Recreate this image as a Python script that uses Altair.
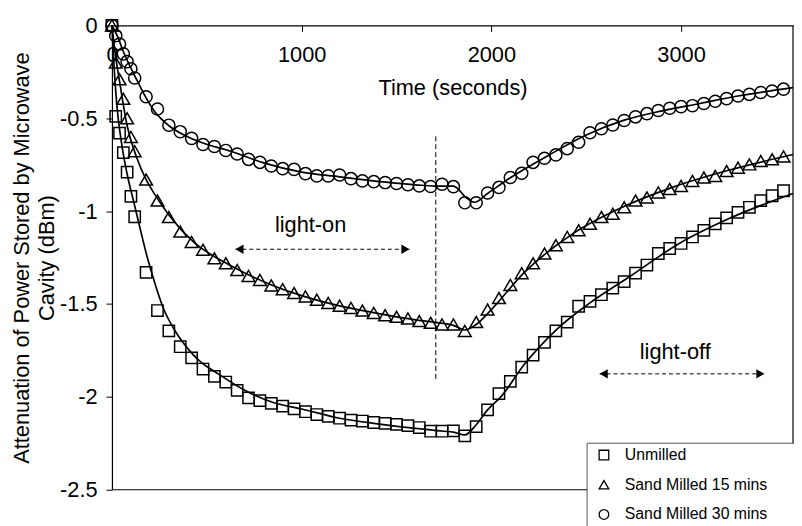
import altair as alt
import pandas as pd

# ---------------- data ----------------
SERIES = ["Unmilled", "Sand Milled 15 mins", "Sand Milled 30 mins"]
SHAPES = ["square", "triangle-up", "circle"]
SIZES = [130, 165, 150]

TIME = [0, 20, 40, 60, 80, 100, 120,
        180, 240, 300, 360, 420, 480, 540, 600, 660, 720,
        780, 840, 900, 960, 1020, 1080, 1140, 1200, 1260, 1320,
        1380, 1440, 1500, 1560, 1620, 1680, 1740, 1800, 1860, 1920,
        1980, 2040, 2100, 2160, 2220, 2280, 2340, 2400, 2460, 2520,
        2580, 2640, 2700, 2760, 2820, 2880, 2940, 3000, 3060, 3120,
        3180, 3240, 3300, 3360, 3420, 3480, 3540]

UNMILLED = [0, -0.49, -0.58, -0.685, -0.79, -0.92, -1.03,
            -1.33, -1.535, -1.645, -1.73, -1.79, -1.85, -1.89, -1.92, -1.965, -2.005,
            -2.02, -2.035, -2.05, -2.065, -2.08, -2.095, -2.105, -2.115, -2.125, -2.13,
            -2.138, -2.143, -2.148, -2.155, -2.165, -2.185, -2.185, -2.183, -2.21, -2.16,
            -2.07, -1.983, -1.917, -1.84, -1.775, -1.707, -1.645, -1.597, -1.512, -1.486,
            -1.45, -1.414, -1.379, -1.334, -1.29, -1.228, -1.201, -1.174, -1.139, -1.103,
            -1.068, -1.036, -1.006, -0.979, -0.943, -0.917, -0.89]

SAND15 = [0, -0.2, -0.29, -0.395, -0.5, -0.6, -0.677,
          -0.83, -0.943, -1.032, -1.11, -1.166, -1.208, -1.254, -1.281, -1.317, -1.349,
          -1.37, -1.40, -1.42, -1.441, -1.459, -1.477, -1.494, -1.509, -1.521, -1.535,
          -1.548, -1.56, -1.569, -1.578, -1.592, -1.601, -1.61, -1.61, -1.645, -1.597,
          -1.53, -1.468, -1.397, -1.334, -1.281, -1.228, -1.183, -1.139, -1.103, -1.068,
          -1.032, -1.014, -0.979, -0.943, -0.926, -0.899, -0.881, -0.864, -0.837, -0.819,
          -0.81, -0.784, -0.766, -0.748, -0.73, -0.721, -0.705]

SAND30 = [0, -0.055, -0.1, -0.153, -0.195, -0.233, -0.283,
          -0.384, -0.45, -0.537, -0.572, -0.608, -0.641, -0.652, -0.673, -0.692, -0.721,
          -0.737, -0.757, -0.771, -0.775, -0.798, -0.81, -0.81, -0.805, -0.825, -0.837,
          -0.841, -0.846, -0.851, -0.858, -0.864, -0.867, -0.855, -0.868, -0.955, -0.955,
          -0.902, -0.872, -0.819, -0.796, -0.737, -0.715, -0.697, -0.663, -0.629, -0.578,
          -0.556, -0.536, -0.512, -0.492, -0.475, -0.458, -0.446, -0.437, -0.432, -0.42,
          -0.408, -0.394, -0.38, -0.371, -0.361, -0.353, -0.343]

# fitted curves (solid lines)
FIT_UNMILLED_T = [0, 10, 25, 50, 80, 115, 150, 184, 230, 270, 330, 400, 460, 560, 720,
                  850, 1000, 1200, 1400, 1600, 1750, 1800, 1860, 1920, 1980, 2050, 2170,
                  2345, 2520, 2730, 2990, 3250, 3590]
FIT_UNMILLED_V = [0, -0.2, -0.42, -0.63, -0.8, -0.95, -1.1, -1.24, -1.4, -1.52, -1.64,
                  -1.74, -1.805, -1.876, -1.975, -2.03, -2.065, -2.115, -2.145, -2.17,
                  -2.185, -2.19, -2.205, -2.15, -2.07, -2.0, -1.83, -1.636, -1.494,
                  -1.352, -1.174, -1.041, -0.905]

FIT_SAND15_T = [0, 20, 40, 80, 130, 180, 220, 300, 430, 620, 800, 1000, 1200, 1400,
                1600, 1750, 1800, 1860, 1920, 2000, 2170, 2430, 2690, 2950, 3250, 3590]
FIT_SAND15_V = [0, -0.17, -0.3, -0.54, -0.71, -0.83, -0.9, -1.02, -1.166, -1.29, -1.38,
                -1.455, -1.51, -1.55, -1.585, -1.605, -1.615, -1.64, -1.61, -1.53,
                -1.334, -1.121, -0.979, -0.873, -0.78, -0.695]

FIT_SAND30_T = [0, 30, 60, 100, 132, 180, 219, 306, 380, 479, 627, 800, 1000, 1200,
                1400, 1600, 1700, 1800, 1870, 1911, 1980, 2100, 2300, 2500, 2700, 2900,
                3100, 3300, 3590]
FIT_SAND30_V = [0, -0.06, -0.14, -0.23, -0.295, -0.39, -0.455, -0.544, -0.59, -0.633,
                -0.677, -0.74, -0.79, -0.815, -0.84, -0.858, -0.865, -0.865, -0.93,
                -0.952, -0.905, -0.82, -0.7, -0.59, -0.51, -0.46, -0.42, -0.38, -0.335]

X_TICKS = [0, 1000, 2000, 3000]
Y_TICKS = [0, -0.5, -1, -1.5, -2, -2.5]

# annotations
ARROW_START = [651, 2571]
ARROW_END = [1568, 3439]
ARROW_V = [-1.205, -1.876]
NOTE_T = [1047, 2969]
NOTE_V = [-1.077, -1.757]
NOTE_TEXT = ["light-on", "light-off"]
SWITCH_T = [1707]
SWITCH_TOP = [-0.597]
SWITCH_BOTTOM = [-1.914]

# ---------------- tables ----------------
SERIES_VALUES = [UNMILLED, SAND15, SAND30]
point_tables = [pd.DataFrame({"t": TIME, "v": vals, "series": [name] * len(TIME)})
                for name, vals in zip(SERIES, SERIES_VALUES)]
fits = pd.DataFrame({
    "t": FIT_UNMILLED_T + FIT_SAND15_T + FIT_SAND30_T,
    "v": FIT_UNMILLED_V + FIT_SAND15_V + FIT_SAND30_V,
    "series": [SERIES[0]] * len(FIT_UNMILLED_T) + [SERIES[1]] * len(FIT_SAND15_T)
              + [SERIES[2]] * len(FIT_SAND30_T),
})
arrows = pd.DataFrame({"t": ARROW_START, "t2": ARROW_END, "v": ARROW_V})
heads_l = pd.DataFrame({"t": ARROW_START, "v": ARROW_V})
heads_r = pd.DataFrame({"t": ARROW_END, "v": ARROW_V})
notes = pd.DataFrame({"t": NOTE_T, "v": NOTE_V, "label": NOTE_TEXT})
switch = pd.DataFrame({"t": SWITCH_T, "v": SWITCH_TOP, "v2": SWITCH_BOTTOM})
one = pd.DataFrame({"k": [0]})

W, H = 688, 469
FONT = "Liberation Sans"
FS = 22

xenc = alt.X("t:Q",
             scale=alt.Scale(domain=[0, 3590], nice=False, zero=False),
             axis=alt.Axis(orient="bottom", offset=-H, values=X_TICKS, format="d",
                           title="Time (seconds)", labelFlush=False, grid=False,
                           tickSize=6, labelPadding=13, titlePadding=13,
                           labelFontSize=FS, titleFontSize=FS, titleFontWeight="normal",
                           labelColor="black", titleColor="black",
                           domainColor="black", tickColor="black", domainWidth=1.2))
yenc = alt.Y("v:Q",
             scale=alt.Scale(domain=[-2.5, 0], nice=False, zero=False),
             axis=alt.Axis(values=Y_TICKS, labelExpr="toString(datum.value)",
                           title=["Attenuation of Power Stored by Microwave", "Cavity (dBm)"],
                           grid=False, tickSize=6, labelPadding=9, titlePadding=1,
                           labelFontSize=FS, titleFontSize=FS, titleFontWeight="normal",
                           titleLineHeight=25,
                           labelColor="black", titleColor="black",
                           domainColor="black", tickColor="black", domainWidth=1.2))

shape_enc = alt.Shape("series:N",
                      scale=alt.Scale(domain=SERIES, range=SHAPES),
                      legend=alt.Legend(title=None, orient="none", legendX=489, legendY=426,
                                        zindex=5,
                                        symbolSize=95, symbolStrokeWidth=1.3,
                                        symbolStrokeColor="black", symbolFillColor="white",
                                        labelFontSize=16,
                                        labelFont=FONT, labelColor="black",
                                        labelOffset=13, rowPadding=14))

lines = alt.Chart(fits).mark_line(interpolate="monotone", color="black", strokeWidth=1.7).encode(
    x=xenc, y=yenc, detail="series:N")

point_layers = [
    alt.Chart(tbl).mark_point(filled=False, color="black", strokeWidth=1.5, opacity=1, size=sz)
    .encode(x=xenc, y=yenc, shape=shape_enc)
    for tbl, sz in zip(point_tables, SIZES)
]

arrow_lines = alt.Chart(arrows).mark_rule(color="black", strokeWidth=1, strokeDash=[4, 3]).encode(
    x=xenc, x2="t2:Q", y=yenc)
left_heads = alt.Chart(heads_l).mark_point(shape="triangle-left", filled=True, color="black",
                                           size=90, opacity=1, xOffset=4).encode(x=xenc, y=yenc)
right_heads = alt.Chart(heads_r).mark_point(shape="triangle-right", filled=True, color="black",
                                            size=90, opacity=1, xOffset=-4).encode(x=xenc, y=yenc)
note_text = alt.Chart(notes).mark_text(font=FONT, fontSize=FS, color="black",
                                       baseline="middle", align="center").encode(
    x=xenc, y=yenc, text="label:N")
switch_line = alt.Chart(switch).mark_rule(color="black", strokeWidth=1, strokeDash=[5, 3]).encode(
    x=xenc, y=yenc, y2="v2:Q")

right_border = alt.Chart(one).mark_rule(color="black", strokeWidth=1.2).encode(
    x=alt.value(W), y=alt.value(0), y2=alt.value(H))
bottom_border = alt.Chart(one).mark_rule(color="black", strokeWidth=1.2).encode(
    y=alt.value(H), x=alt.value(0), x2=alt.value(W))
legend_box = alt.Chart(one).mark_rect(fill="white", stroke="#555", strokeWidth=1).encode(
    x=alt.value(480), x2=alt.value(760), y=alt.value(422), y2=alt.value(540))

chart = alt.layer(
    right_border, bottom_border, lines, *point_layers, switch_line, arrow_lines,
    left_heads, right_heads, note_text, legend_box
).properties(
    width=W, height=H,
    padding={"left": 105, "top": 15, "right": 1, "bottom": 34},
    autosize=alt.AutoSizeParams(type="none"),
).configure(font=FONT).configure_view(stroke=None)

chart.save("out.html", embed_options={"renderer": "svg", "actions": False})
